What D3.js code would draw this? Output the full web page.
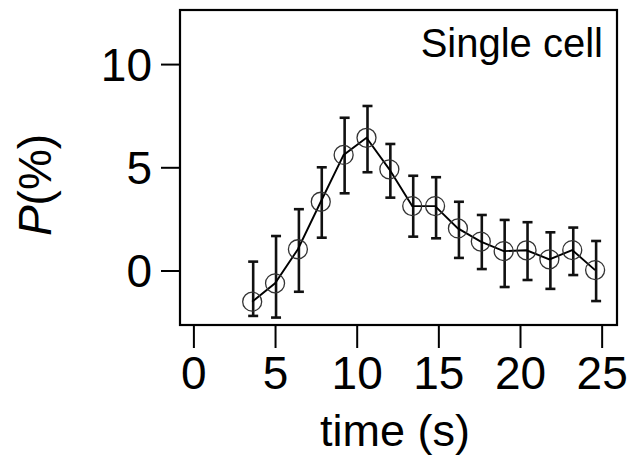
<!DOCTYPE html>
<html>
<head>
<meta charset="utf-8">
<script src="https://cdn.jsdelivr.net/npm/d3@7/dist/d3.min.js"></script>
<style>
  html, body { margin: 0; padding: 0; background: #fff; }
  svg { display: block; }
  text { font-family: "Liberation Sans", Arial, Helvetica, sans-serif; fill: #000; }
</style>
</head>
<body>
<svg id="chart" width="631" height="458"></svg>
<script>
// Time after stimulus (s)
const times = [3.6, 5.0, 6.4, 7.8, 9.2, 10.6, 12.0, 13.4, 14.8, 16.2, 17.6, 19.0, 20.4, 21.8, 23.2, 24.6];
// Mean P (%) for a single cell
const pValues = [-1.51, -0.62, 1.03, 3.33, 5.60, 6.43, 4.90, 3.12, 3.12, 2.04, 1.40, 0.94, 0.98, 0.54, 0.99, 0.02];
// Error bar upper and lower ends (%)
const errHigh = [0.43, 1.67, 2.97, 5.00, 7.40, 7.97, 6.13, 4.59, 4.52, 3.33, 2.69, 2.45, 2.34, 1.85, 2.08, 1.43];
const errLow = [-2.20, -2.28, -1.03, 1.59, 3.74, 4.76, 3.53, 1.64, 1.56, 0.61, 0.07, -0.80, -0.46, -0.89, -0.22, -1.48];
// Axis ticks
const xTicks = [0, 5, 10, 15, 20, 25];
const yTicks = [0, 5, 10];

const points = times.map((t, i) => ({ t, p: pValues[i], hi: errHigh[i], lo: errLow[i] }));

const svg = d3.select("#chart");
const plot = { left: 180, right: 617, top: 10, bottom: 325 };

const x = d3.scaleLinear().domain([-0.82, 25.94]).range([plot.left, plot.right]);
const y = d3.scaleLinear().domain([-2.64, 12.62]).range([plot.bottom, plot.top]);

// x axis (ticks sit just below the frame, no axis line)
const xAxis = svg.append("g")
  .attr("transform", `translate(0,${plot.bottom + 1})`)
  .call(d3.axisBottom(x).tickValues(xTicks).tickSize(22).tickPadding(8).tickFormat(d3.format("d")));
xAxis.select(".domain").remove();
xAxis.selectAll(".tick line").attr("stroke", "#000").attr("stroke-width", 2);
xAxis.selectAll(".tick text").attr("font-size", 46).attr("font-family", null);

// y axis
const yAxis = svg.append("g")
  .attr("transform", `translate(${plot.left - 1},0)`)
  .call(d3.axisLeft(y).tickValues(yTicks).tickSize(18).tickPadding(9).tickFormat(d3.format("d")));
yAxis.select(".domain").remove();
yAxis.selectAll(".tick line").attr("stroke", "#000").attr("stroke-width", 2);
yAxis.selectAll(".tick text").attr("font-size", 46).attr("dy", "0.35em").attr("font-family", null);

// frame
svg.append("rect")
  .attr("x", plot.left).attr("y", plot.top)
  .attr("width", plot.right - plot.left).attr("height", plot.bottom - plot.top)
  .attr("fill", "none").attr("stroke", "#000").attr("stroke-width", 2.2);

// error bars
const eb = svg.append("g").attr("stroke", "#111").attr("stroke-width", 2.6);
const cap = 5;
points.forEach(d => {
  const cx = x(d.t) + 1;
  eb.append("line").attr("x1", cx).attr("x2", cx).attr("y1", y(d.hi)).attr("y2", y(d.lo));
  eb.append("line").attr("x1", cx - cap).attr("x2", cx + cap).attr("y1", y(d.hi)).attr("y2", y(d.hi));
  eb.append("line").attr("x1", cx - cap).attr("x2", cx + cap).attr("y1", y(d.lo)).attr("y2", y(d.lo));
});

// connecting line
svg.append("path")
  .datum(points)
  .attr("fill", "none")
  .attr("stroke", "#000")
  .attr("stroke-width", 1.9)
  .attr("d", d3.line().x(d => x(d.t)).y(d => y(d.p)));

// open circle markers
svg.append("g").selectAll("circle")
  .data(points)
  .join("circle")
  .attr("cx", d => x(d.t))
  .attr("cy", d => y(d.p))
  .attr("r", 9.5)
  .attr("fill", "none")
  .attr("stroke", "#333")
  .attr("stroke-width", 1.3);

// panel label
svg.append("text")
  .attr("x", 603).attr("y", 57)
  .attr("text-anchor", "end")
  .attr("font-size", 40)
  .text("Single cell");

// axis titles
svg.append("text")
  .attr("x", 395).attr("y", 446)
  .attr("text-anchor", "middle")
  .attr("font-size", 45)
  .text("time (s)");

const yTitle = svg.append("text")
  .attr("transform", "translate(51,185) rotate(-90)")
  .attr("text-anchor", "middle")
  .attr("font-size", 46);
yTitle.append("tspan").attr("font-style", "italic").text("P");
yTitle.append("tspan").text("(%)");
</script>
</body>
</html>
